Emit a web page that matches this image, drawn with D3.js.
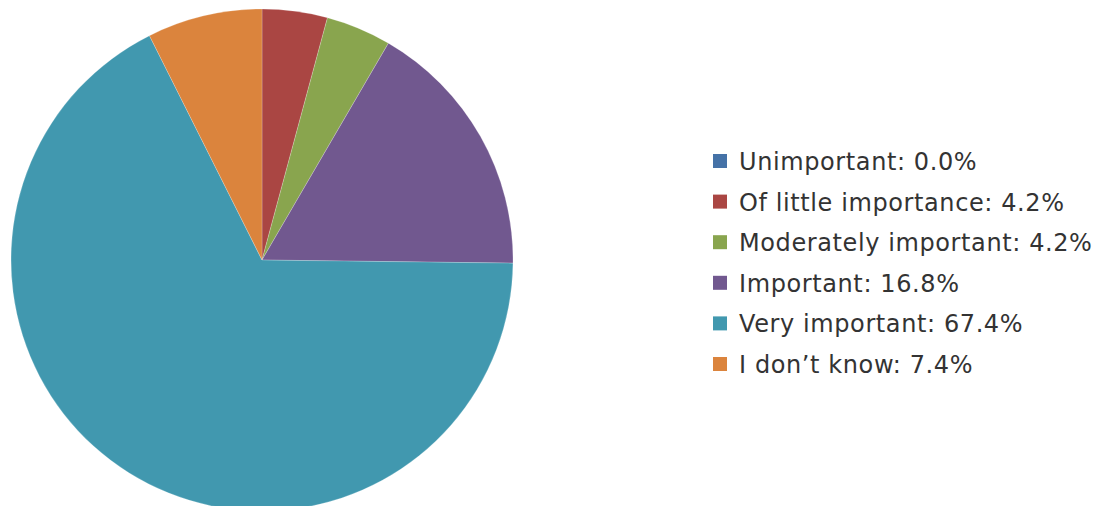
<!DOCTYPE html>
<html>
<head>
<meta charset="utf-8">
<script src="https://cdn.jsdelivr.net/npm/d3@7"></script>
<style>
  html, body { margin: 0; padding: 0; background: #fff; }
  svg { display: block; }
</style>
</head>
<body>
<svg id="chart" width="1108" height="506"></svg>
<script>
// Survey responses: how important is it?
const categories = ["Unimportant", "Of little importance", "Moderately important", "Important", "Very important", "I don\u2019t know"];
const shares = [0.0, 4.2, 4.2, 16.8, 67.4, 7.4];
const colors = ["#4572a7", "#aa4643", "#89a54e", "#71588f", "#4198af", "#db843d"];

const svg = d3.select("#chart");
const cx = 262, cy = 260, radius = 251;

const data = categories.map((c, i) => ({ name: c, value: shares[i], color: colors[i] }));

const pie = d3.pie().sort(null).value(d => d.value);
const arc = d3.arc().innerRadius(0).outerRadius(radius);

svg.append("g")
  .attr("transform", `translate(${cx},${cy})`)
  .selectAll("path")
  .data(pie(data).filter(d => d.data.value > 0))
  .join("path")
  .attr("d", arc)
  .attr("fill", d => d.data.color)
  .attr("stroke", "rgba(255,255,255,0.35)")
  .attr("stroke-width", 0.6);

// Legend
const legend = svg.append("g").attr("transform", "translate(713,0)");
const rowY = d3.scaleLinear().domain([0, 1]).range([170, 210.6]);
const rows = legend.selectAll("g")
  .data(data)
  .join("g")
  .attr("transform", (d, i) => `translate(0,${rowY(i)})`);

rows.append("rect")
  .attr("x", 0).attr("y", -16)
  .attr("width", 14).attr("height", 14)
  .attr("fill", d => d.color);

rows.append("text")
  .attr("x", 26).attr("y", 0)
  .attr("font-family", "'DejaVu Sans', sans-serif")
  .attr("font-size", 24)
  .attr("letter-spacing", 0.6)
  .attr("fill", "#333")
  .text(d => `${d.name}: ${d.value.toFixed(1)}%`);
</script>
</body>
</html>
